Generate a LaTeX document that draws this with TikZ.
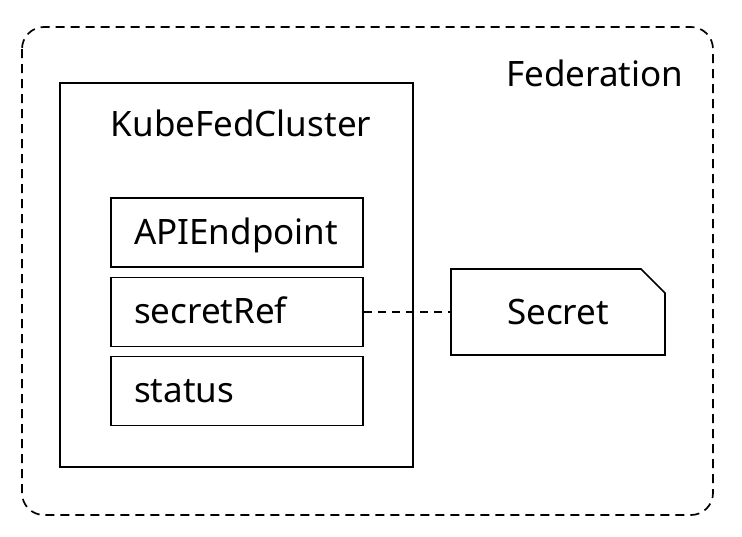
\documentclass[tikz,border=0pt]{standalone}
\usepackage{fontspec}
\setmainfont{Noto Sans}
\usepackage{tikz}
\usetikzlibrary{positioning}
\usetikzlibrary{shapes.misc}
\tikzset{
    fedframe/.style={draw=black, dashed, dash pattern=on 9pt off 6pt, rounded corners=22pt},
    clusterbox/.style={draw=black, rectangle, minimum width=353pt, minimum height=384pt},
    fieldbox/.style={draw=black, rectangle, minimum width=252pt, minimum height=69pt,
        text width=206pt, inner xsep=23pt, align=left, text height=30pt, text depth=7pt},
    secretbox/.style={draw=black, chamfered rectangle, chamfered rectangle corners=north east,
        chamfered rectangle xsep=12pt, chamfered rectangle ysep=12pt,
        minimum width=214pt, minimum height=86pt, inner sep=0pt},
    link/.style={draw=black, dashed, dash pattern=on 8pt off 6pt},
}

\begin{document}
\begin{tikzpicture}[x=1pt, y=-1pt, line width=1.7pt, font=\fontsize{35}{42}\selectfont]
	\useasboundingbox (0,0) rectangle (742,536);
	\draw[fedframe] (22,27) rectangle (713,515);
	\node[anchor=base east, inner sep=0pt] (fed) at (684,86) {Federation};
	\node[clusterbox] (cluster) at (236.5,275) {};
	\node[anchor=base west, inner sep=0pt] (clustername) at (110,136) {KubeFedCluster};
	\node[fieldbox] (api) at (237,232.5) {APIEndpoint};
	\node[fieldbox] (ref) at (237,312) {secretRef};
	\node[fieldbox] (status) at (237,391) {status};
	\node[secretbox] (secret) at (558,312) {Secret};
	\draw[link] (ref.east)--(secret.west);
\end{tikzpicture}
\end{document}
